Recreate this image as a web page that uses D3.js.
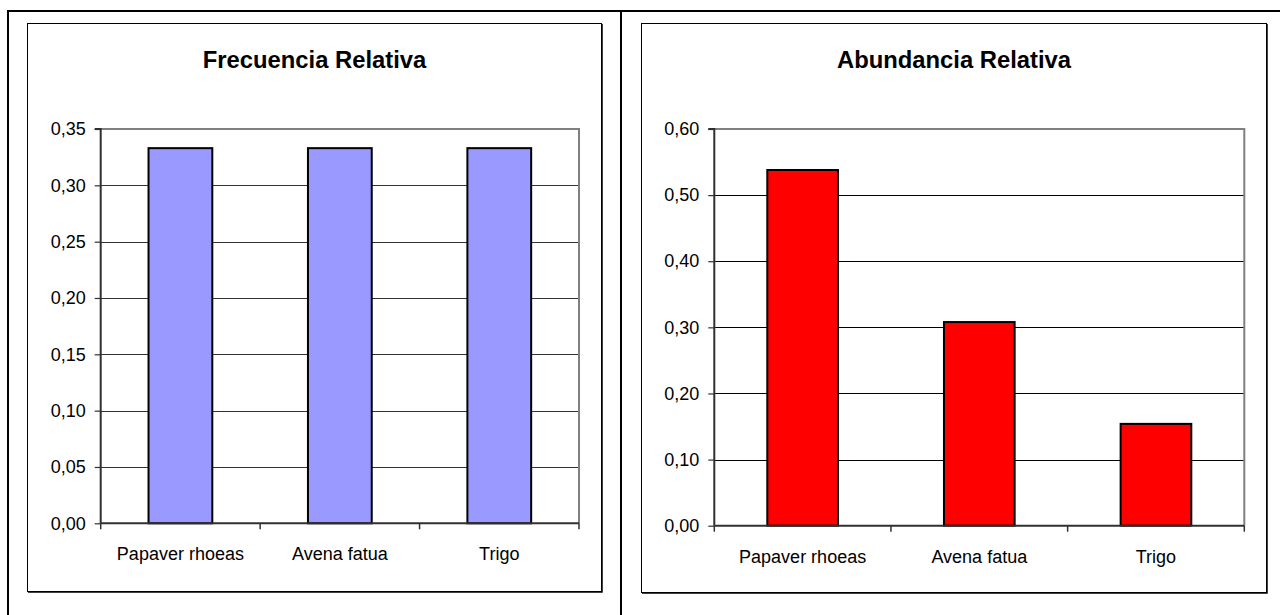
<!DOCTYPE html>
<html>
<head>
<meta charset="utf-8">
<script src="https://cdn.jsdelivr.net/npm/d3@7"></script>
<style>
  html, body { margin: 0; padding: 0; background: #fff; }
  svg { display: block; font-family: "Liberation Sans", Arial, sans-serif; }
</style>
</head>
<body>
<svg id="fig" width="1280" height="615"></svg>
<script>
// Species sampled
const categories = ["Papaver rhoeas", "Avena fatua", "Trigo"];

// Relative frequency per species
const frecuenciaValues = [0.333, 0.333, 0.333];
const frecuenciaTicks = [0, 0.05, 0.10, 0.15, 0.20, 0.25, 0.30, 0.35];

// Relative abundance per species
const abundanciaValues = [0.538, 0.308, 0.154];
const abundanciaTicks = [0, 0.10, 0.20, 0.30, 0.40, 0.50, 0.60];

const esLocale = d3.formatLocale({ decimal: ",", thousands: ".", grouping: [3], currency: ["", " €"] });
const fmt = esLocale.format(".2f");

const svg = d3.select("#fig");

// Outer table-like frame: top edge, left edge and middle divider
const frame = svg.append("g").attr("stroke", "#000").attr("stroke-width", 2);
frame.append("line").attr("x1", 7).attr("x2", 1280).attr("y1", 11).attr("y2", 11);
frame.append("line").attr("x1", 8).attr("x2", 8).attr("y1", 10).attr("y2", 615);
frame.append("line").attr("x1", 621).attr("x2", 621).attr("y1", 10).attr("y2", 615);

function drawChart(opts) {
  const g = svg.append("g");

  // Chart box with a darker right/bottom edge
  const b = opts.box;
  g.append("rect")
    .attr("x", b.x + 0.5).attr("y", b.y + 0.5)
    .attr("width", b.w).attr("height", b.h)
    .attr("fill", "#fff").attr("stroke", "#000").attr("stroke-width", 1);
  g.append("path")
    .attr("d", `M${b.x + b.w + 1.5},${b.y + 1} V${b.y + b.h + 1.5} H${b.x + 1}`)
    .attr("fill", "none").attr("stroke", "#404040").attr("stroke-width", 1);

  // Title
  g.append("text")
    .attr("x", b.x + b.w / 2 + 0.5).attr("y", 68)
    .attr("text-anchor", "middle")
    .attr("font-size", 23.8).attr("font-weight", "bold")
    .attr("fill", "#000")
    .text(opts.title);

  const p = opts.plot;
  const x = d3.scaleBand()
    .domain(categories)
    .range([p.left, p.right])
    .paddingInner(0.6)
    .paddingOuter(0.3);
  const y = d3.scaleLinear()
    .domain([0, d3.max(opts.ticks)])
    .range([p.bottom, p.top]);

  // Horizontal gridlines
  g.append("g")
    .selectAll("line")
    .data(opts.ticks.filter(t => t > 0 && t < d3.max(opts.ticks)))
    .join("line")
    .attr("x1", p.left).attr("x2", p.right)
    .attr("y1", d => Math.round(y(d)) + 0.5).attr("y2", d => Math.round(y(d)) + 0.5)
    .attr("stroke", opts.gridColor).attr("stroke-width", 1);

  // Plot area border (top and right)
  g.append("path")
    .attr("d", `M${p.left},${p.top} H${p.right} V${p.bottom}`)
    .attr("fill", "none").attr("stroke", "#808080").attr("stroke-width", 2);

  // Bars
  g.append("g")
    .selectAll("rect")
    .data(opts.values)
    .join("rect")
    .attr("x", (d, i) => x(categories[i]))
    .attr("y", d => y(d))
    .attr("width", x.bandwidth())
    .attr("height", d => y(0) - y(d))
    .attr("fill", opts.color)
    .attr("stroke", "#000").attr("stroke-width", 2);

  // Y axis
  const yAxis = d3.axisLeft(y)
    .tickValues(opts.ticks)
    .tickSize(6)
    .tickPadding(9)
    .tickFormat(fmt);
  const ya = g.append("g").attr("transform", `translate(${p.left},0)`).call(yAxis);
  ya.select(".domain").attr("stroke", "#303030").attr("stroke-width", 2)
    .attr("d", `M-6,${p.top}H0V${p.bottom}`);
  ya.selectAll(".tick line").attr("stroke", "#303030").attr("stroke-width", 1.2);
  ya.selectAll(".tick text")
    .attr("font-size", 18).attr("fill", "#000")
    .attr("font-family", "Liberation Sans, Arial, sans-serif");

  // X axis baseline with ticks between categories
  const boundaries = d3.range(categories.length + 1).map(i => p.left + i * (p.right - p.left) / categories.length);
  g.append("line")
    .attr("x1", p.left).attr("x2", p.right)
    .attr("y1", p.bottom).attr("y2", p.bottom)
    .attr("stroke", "#303030").attr("stroke-width", 2);
  g.append("g")
    .selectAll("line")
    .data(boundaries)
    .join("line")
    .attr("x1", d => d).attr("x2", d => d)
    .attr("y1", p.bottom).attr("y2", p.bottom + 6)
    .attr("stroke", "#303030").attr("stroke-width", 1.5);

  // Category labels
  g.append("g")
    .selectAll("text")
    .data(categories)
    .join("text")
    .attr("x", d => x(d) + x.bandwidth() / 2)
    .attr("y", opts.labelY)
    .attr("text-anchor", "middle")
    .attr("font-size", 18).attr("fill", "#000")
    .text(d => d);
}

drawChart({
  title: "Frecuencia Relativa",
  values: frecuenciaValues,
  ticks: frecuenciaTicks,
  color: "#9999ff",
  gridColor: "#333",
  box: { x: 27, y: 23, w: 574, h: 568 },
  plot: { left: 100.7, right: 579, top: 129, bottom: 523.3 },
  labelY: 560
});

drawChart({
  title: "Abundancia Relativa",
  values: abundanciaValues,
  ticks: abundanciaTicks,
  color: "#ff0000",
  gridColor: "#000",
  box: { x: 641, y: 23, w: 625, h: 569 },
  plot: { left: 714.3, right: 1244.3, top: 129, bottom: 525.7 },
  labelY: 563
});
</script>
</body>
</html>
